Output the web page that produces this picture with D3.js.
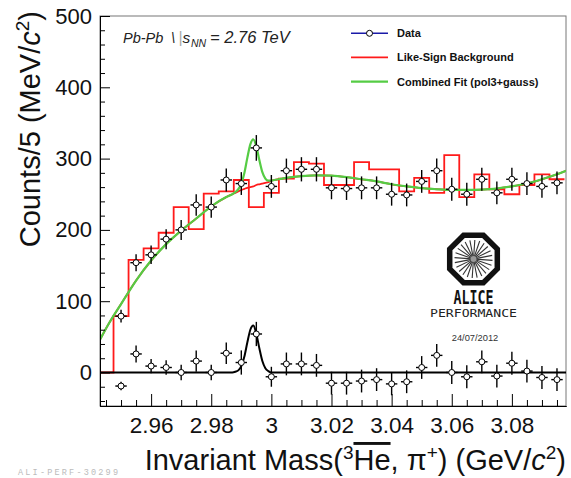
<!DOCTYPE html>
<html><head><meta charset="utf-8">
<script src="https://cdn.jsdelivr.net/npm/d3@7"></script>
<style>
html,body{margin:0;padding:0;background:#fff;}
svg{display:block;font-family:"Liberation Sans",Arial,Helvetica,sans-serif;}
</style></head>
<body>
<svg id="chart" width="571" height="478"></svg>
<script>
// ---------------- data ----------------
const binCenters = [2.950,2.955,2.960,2.965,2.970,2.975,2.980,2.985,2.990,2.995,
                    3.000,3.005,3.010,3.015,3.020,3.025,3.030,3.035,3.040,3.045,
                    3.050,3.055,3.060,3.065,3.070,3.075,3.080,3.085,3.090,3.095];
const binHalfWidth = 0.0025;
const dataCounts = [79,154,165,187,200,235,232,270,265,315,261,283,285,285,259,
                    258,259,259,250,249,268,283,257,250,271,252,271,265,261,266];
const dataErr    = [9,12,13,14,14,15,15,16,16,18,16,17,17,17,16,
                    16,16,16,16,16,16,17,16,16,16,16,16,16,16,16];
const subCounts  = [-19,26,9,7,0,16,0,27,14,54,-6,12,12,10,-15,
                    -15,-12,-10,-16,-13,7,24,0,-6,15,-5,13,2,-7,-10];
const subErr     = [6,12,10,10,11,15,11,15,17,17,14,16,16,16,16,
                    16,16,16,16,16,16,16,16,16,16,16,16,16,16,16];
const likeSignCenters = [2.945,2.950,2.955,2.960,2.965,2.970,2.975,2.980,2.985,2.990,2.995,
                    3.000,3.005,3.010,3.015,3.020,3.025,3.030,3.035,3.040,3.045,
                    3.050,3.055,3.060,3.065,3.070,3.075,3.080,3.085,3.090,3.095];
const likeSignCounts = [0,79,158,174,196,232,201,251,254,270,232,252,272,295,293,263,
                    263,295,285,285,254,273,252,305,246,278,257,250,263,278,271];
// fit curves
const fitMass = [2.943,2.946,2.950,2.955,2.960,2.965,2.970,2.975,2.980,2.985,2.987,2.988,
                 2.989,2.990,2.991,2.992,2.993,2.994,2.995,2.996,2.997,2.998,2.999,3.000,
                 3.001,3.003,3.005,3.010,3.015,3.020,3.025,3.030,3.035,3.040,3.045,3.050,
                 3.055,3.060,3.065,3.070,3.075,3.080,3.085,3.090,3.095,3.098];
const fitBackground = [46,69,96,129,157,180,199,216,233,246,250,252,
                 254,256,257.5,259,260,261,263,264,265,266,267,269,
                 270,271.5,273,275.5,276.5,276,274,271,268,264,261,258.5,
                 257,256,256,256.5,258,261,265,271,278,283];
const fitCombined = [46,69,96,129,157,180,199,216,233,246,250,253,
                 257,265,279.5,301,320,327,317,298,281,272,269,269,
                 270,271.5,273,275.5,276.5,276,274,271,268,264,261,258.5,
                 257,256,256,256.5,258,261,265,271,278,283];
const fitSignal = [0,0,0,0,0,0,0,0,0,0,0,1,
                 3,9,22,42,60,66,54,34,16,6,2,0,
                 0,0,0,0,0,0,0,0,0,0,0,0,
                 0,0,0,0,0,0,0,0,0,0];
const xMajorTicks = [2.96,2.98,3.00,3.02,3.04,3.06,3.08];
const xTickLabels = ["2.96","2.98","3","3.02","3.04","3.06","3.08"];
const xMinorTicks = [2.945,2.950,2.955,2.965,2.970,2.975,2.985,2.990,2.995,3.005,3.010,3.015,
                     3.025,3.030,3.035,3.045,3.050,3.055,3.065,3.070,3.075,3.085,3.090,3.095];
const yMajorTicks = [0,100,200,300,400,500];
const yMinorTicks = [-40,-20,20,40,60,80,120,140,160,180,220,240,260,280,320,340,360,380,420,440,460,480];
const legendLabels = ["Data","Like-Sign Background","Combined Fit (pol3+gauss)"];

// ---------------- layout ----------------
const svg = d3.select("#chart");
const L = 100, R = 566, T = 16, B = 406;
const x = d3.scaleLinear().domain([2.943, 3.098]).range([L, R]);
const y = d3.scaleLinear().domain([-47, 500]).range([B, T]);

svg.append("defs").append("clipPath").attr("id","clip")
  .append("rect").attr("x",L).attr("y",T).attr("width",R-L).attr("height",B-T);

// frame (top/right)
svg.append("rect").attr("x",L).attr("y",T).attr("width",R-L).attr("height",B-T)
  .attr("fill","none").attr("stroke","#777").attr("stroke-width",1);

const plot = svg.append("g").attr("clip-path","url(#clip)");

// like-sign histogram (steps)
const stepPts = [[2.943 - 0.001, 0]];
likeSignCenters.forEach((c,i)=>{
  stepPts.push([c-binHalfWidth, likeSignCounts[i]]);
  stepPts.push([c+binHalfWidth, likeSignCounts[i]]);
});
const stepLine = d3.line().x(d=>x(d[0])).y(d=>y(d[1]));
plot.append("path").attr("d", stepLine(stepPts))
  .attr("fill","none").attr("stroke","#ff1a1a").attr("stroke-width",1.8);

// fit lines
const fitLine = arr => d3.line().x((d,i)=>x(fitMass[i])).y(d=>y(d)).curve(d3.curveMonotoneX)(arr);
plot.append("path").attr("d", fitLine(fitBackground))
  .attr("fill","none").attr("stroke","#ff1a1a").attr("stroke-width",1.8);
plot.append("path").attr("d", fitLine(fitCombined))
  .attr("fill","none").attr("stroke","#55cc44").attr("stroke-width",2.2);
plot.append("path").attr("d", fitLine(fitSignal))
  .attr("fill","none").attr("stroke","#000").attr("stroke-width",2);

// data points with error bars
function drawPoints(vals, errs){
  const g = plot.append("g");
  binCenters.forEach((c,i)=>{
    const v = vals[i], e = errs[i];
    g.append("line").attr("x1",x(c)).attr("x2",x(c)).attr("y1",y(v-e)).attr("y2",y(v+e))
      .attr("stroke","#000").attr("stroke-width",1.4);
    g.append("line").attr("x1",x(c-0.0019)).attr("x2",x(c+0.0019)).attr("y1",y(v)).attr("y2",y(v))
      .attr("stroke","#000").attr("stroke-width",1.4);
  });
  binCenters.forEach((c,i)=>{
    g.append("circle").attr("cx",x(c)).attr("cy",y(vals[i])).attr("r",3)
      .attr("fill","#fff").attr("stroke","#000").attr("stroke-width",1);
  });
}
drawPoints(dataCounts, dataErr);
drawPoints(subCounts, subErr);

// axes
const ax = svg.append("g").attr("font-family","'Liberation Sans',Arial,sans-serif");
ax.append("g").attr("transform",`translate(0,${B})`)
  .call(d3.axisBottom(x).tickValues(xMinorTicks).tickSize(-6).tickSizeOuter(0).tickFormat(""));
const xMajor = ax.append("g").attr("transform",`translate(0,${B})`)
  .call(d3.axisBottom(x).tickValues(xMajorTicks).tickSize(-12).tickSizeOuter(0)
     .tickPadding(10).tickFormat((d,i)=>xTickLabels[i]));
xMajor.selectAll("text").attr("font-size",22.5).attr("fill","#111").attr("dy","0.74em");
ax.append("g").attr("transform",`translate(${L},0)`)
  .call(d3.axisLeft(y).tickValues(yMinorTicks).tickSize(-5).tickSizeOuter(0).tickFormat(""));
const yMajor = ax.append("g").attr("transform",`translate(${L},0)`)
  .call(d3.axisLeft(y).tickValues(yMajorTicks).tickSize(-10).tickSizeOuter(0).tickPadding(8)
     .tickFormat(d3.format("d")));
yMajor.selectAll("text").attr("font-size",22).attr("fill","#111");
ax.selectAll(".domain").attr("stroke","#000");
ax.selectAll(".tick line").attr("stroke","#000");

// axis titles
const yt = svg.append("text").attr("transform","translate(40,11) rotate(-90)")
  .attr("text-anchor","end").attr("font-size",29).attr("fill","#111");
yt.append("tspan").text("Counts/5 (MeV/");
yt.append("tspan").attr("font-style","italic").text("c");
yt.append("tspan").attr("font-size",19).attr("dy",-11).text("2");
yt.append("tspan").attr("dy",11).text(")");

const xt = svg.append("text").attr("x",566).attr("y",470)
  .attr("text-anchor","end").attr("font-size",29).attr("fill","#111");
xt.append("tspan").text("Invariant Mass(");
xt.append("tspan").attr("font-size",19).attr("dy",-11).text("3");
xt.append("tspan").attr("dy",11).attr("text-decoration","overline").text("He");
xt.append("tspan").text(", π");
xt.append("tspan").attr("font-size",19).attr("dy",-11).text("+");
xt.append("tspan").attr("dy",11).text(") (GeV/");
xt.append("tspan").attr("font-style","italic").text("c");
xt.append("tspan").attr("font-size",19).attr("dy",-11).text("2");
xt.append("tspan").attr("dy",11).text(")");

// title
const tt = svg.append("text").attr("y",42.5).attr("font-style","italic").attr("fill","#222");
tt.append("tspan").attr("x",123).attr("font-size",14.5).text("Pb-Pb");
tt.append("tspan").attr("x",171).attr("font-size",15).text("\\");
tt.append("tspan").attr("x",178.5).attr("font-style","normal").attr("fill","#aaa").attr("font-size",16).attr("font-weight","300").text("|");
tt.append("tspan").attr("x",182.5).attr("font-size",15.5).text("s");
tt.append("tspan").attr("x",191).attr("font-size",10.5).attr("dy",4).text("NN");
tt.append("tspan").attr("x",210).attr("dy",-4).attr("font-size",16.5).text("= 2.76 TeV");

// legend
const lg = svg.append("g");
const legY = [33.3, 57.3, 81.7];
lg.append("line").attr("x1",351).attr("x2",388).attr("y1",legY[0]).attr("y2",legY[0])
  .attr("stroke","#1a1aa8").attr("stroke-width",1.5);
lg.append("circle").attr("cx",369.5).attr("cy",legY[0]).attr("r",3)
  .attr("fill","#fff").attr("stroke","#000").attr("stroke-width",1);
lg.append("line").attr("x1",351).attr("x2",388).attr("y1",legY[1]).attr("y2",legY[1])
  .attr("stroke","#ff1a1a").attr("stroke-width",1.8);
lg.append("line").attr("x1",351).attr("x2",388).attr("y1",legY[2]).attr("y2",legY[2])
  .attr("stroke","#55cc44").attr("stroke-width",2.2);
legendLabels.forEach((t,i)=>{
  lg.append("text").attr("x",397).attr("y",legY[i]+4).attr("font-size",11)
    .attr("font-weight","bold").attr("fill","#111").text(t);
});

// ALICE logo
const logo = svg.append("g").attr("transform","translate(473.5,259)");
const oct = d3.range(8).map(k=>{
  const a = Math.PI/8 + k*Math.PI/4;
  const rr = 23.8/Math.cos(Math.PI/8);
  return [rr*Math.cos(a), rr*Math.sin(a)];
});
logo.append("polygon").attr("points",oct.map(p=>p.join(",")).join(" "))
  .attr("fill","#fff").attr("stroke","#111").attr("stroke-width",5.5).attr("stroke-linejoin","miter");
d3.range(24).forEach(k=>{
  const a = k*Math.PI/12 + 0.07;
  logo.append("line").attr("x1",2*Math.cos(a)).attr("y1",2*Math.sin(a))
    .attr("x2",19*Math.cos(a)).attr("y2",19*Math.sin(a))
    .attr("stroke","#333").attr("stroke-width",1.1);
});
logo.append("circle").attr("r",3).attr("fill","#999");
svg.append("text").attr("x",473.5).attr("y",303.5).attr("text-anchor","middle")
  .attr("font-family","'DejaVu Sans Mono',monospace").attr("font-weight","bold")
  .attr("font-size",20).attr("textLength",40).attr("lengthAdjust","spacingAndGlyphs")
  .attr("fill","#111").text("ALICE");
svg.append("text").attr("x",473.5).attr("y",316.7).attr("text-anchor","middle")
  .attr("font-family","'DejaVu Sans Mono',monospace")
  .attr("font-size",11).attr("textLength",87).attr("lengthAdjust","spacingAndGlyphs")
  .attr("fill","#222").text("PERFORMANCE");
svg.append("text").attr("x",475).attr("y",340.5).attr("text-anchor","middle")
  .attr("font-size",9.3).attr("fill","#333").text("24/07/2012");

// watermark
svg.append("text").attr("x",18).attr("y",474.5)
  .attr("font-family","'Liberation Mono',monospace").attr("font-size",8.5)
  .attr("textLength",100).attr("lengthAdjust","spacing")
  .attr("fill","#bbb").text("ALI-PERF-30299");
</script>
</body></html>
